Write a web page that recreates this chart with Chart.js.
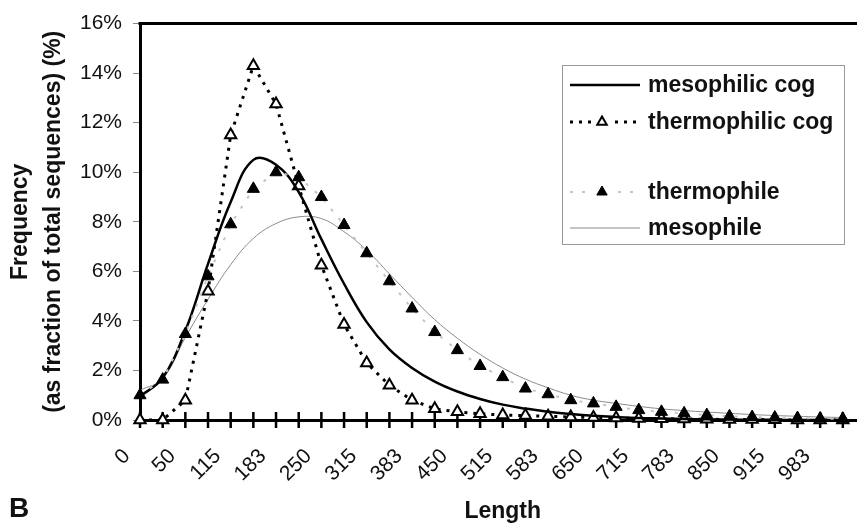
<!DOCTYPE html>
<html>
<head>
<meta charset="utf-8">
<title>Length distribution</title>
<script src="https://cdn.jsdelivr.net/npm/chart.js@4.4.1/dist/chart.umd.min.js"></script>
<style>
  html, body { margin: 0; padding: 0; background: #fff; overflow: hidden; }
  #wrap { position: relative; width: 857px; height: 525px; overflow: hidden; }
  #panel { position: absolute; left: 9px; top: 494px; font: bold 28px 'Liberation Sans', Arial, sans-serif; color: #111; line-height: 1; }
</style>
</head>
<body>
<div id="wrap">
  <canvas id="chart" width="874" height="525"></canvas>
  <div id="panel">B</div>
</div>
<script>
// length bins (only every other one is labelled on the axis)
const lengthBins = ['0', '25', '50', '83', '115', '150', '183', '217', '250', '283', '315', '350',
  '383', '417', '450', '483', '515', '550', '583', '617', '650', '683', '715', '750',
  '783', '817', '850', '883', '915', '950', '983', '1017', '1050'];

// frequency in % of total sequences
const mesophilicCog = [0.95, 1.7, 3.6, 6.3, 8.8, 10.5, 10.3, 9.2, 7.3, 5.5, 3.95, 2.85,
  2.1, 1.55, 1.15, 0.85, 0.62, 0.46, 0.33, 0.24, 0.17, 0.12, 0.08, 0.06,
  0.04, 0.03, 0.02, 0.01, 0.01, 0, 0, 0, null];
const thermophilicCog = [0, 0, 0.8, 5.2, 11.5, 14.3, 12.75, 9.45, 6.25, 3.85, 2.3, 1.4,
  0.8, 0.45, 0.33, 0.25, 0.2, 0.18, 0.15, 0.12, 0.1, 0.08, 0.06, 0.05,
  0.04, 0.03, 0.02, 0.02, 0.01, 0, 0, 0, null];
const thermophile = [1.0, 1.63, 3.47, 5.8, 7.9, 9.33, 10.0, 9.8, 9.0, 7.87, 6.73, 5.6,
  4.5, 3.55, 2.82, 2.18, 1.73, 1.27, 1.04, 0.8, 0.67, 0.53, 0.4, 0.33,
  0.27, 0.2, 0.15, 0.12, 0.1, 0.08, 0.06, 0.05, null];
const mesophile = [1.2, 1.67, 3.33, 4.87, 6.27, 7.33, 7.93, 8.2, 8.13, 7.6, 6.85, 5.9,
  4.95, 4.05, 3.3, 2.65, 2.1, 1.65, 1.3, 1.0, 0.8, 0.67, 0.55, 0.45,
  0.38, 0.32, 0.27, 0.22, 0.18, 0.15, 0.12, 0.1, null];

const FONT = "'Liberation Sans', Arial, sans-serif";
const INK = '#111';

// thick top frame + tick marks crossing the x axis
const framePlugin = {
  id: 'frame',
  beforeDatasetsDraw(chart) {
    const { ctx, chartArea } = chart;
    const xs = chart.scales.x;
    const y0 = chart.scales.y.getPixelForValue(0);
    ctx.save();
    ctx.strokeStyle = '#000';
    ctx.lineWidth = 3;
    ctx.beginPath();
    ctx.moveTo(chartArea.left - 1.5, chartArea.top);
    ctx.lineTo(chart.width, chartArea.top);
    ctx.stroke();
    ctx.lineWidth = 2.5;
    ctx.beginPath();
    for (let i = 0; i < lengthBins.length; i++) {
      const x = xs.getPixelForTick(i);
      ctx.moveTo(x, y0 - 8);
      ctx.lineTo(x, y0 + 8);
    }
    ctx.stroke();
    ctx.restore();
  }
};

// boxed legend inside the plot, with a blank row between the pairs
const legendPlugin = {
  id: 'boxLegend',
  afterDraw(chart) {
    const { ctx } = chart;
    const box = { x: 562, y: 65, w: 282, h: 179 };
    const rows = [85, 122, 192, 228];
    ctx.save();
    ctx.fillStyle = '#fff';
    ctx.fillRect(box.x, box.y, box.w, box.h);
    ctx.strokeStyle = '#999';
    ctx.lineWidth = 1;
    ctx.strokeRect(box.x + 0.5, box.y + 0.5, box.w, box.h);

    chart.data.datasets.forEach((ds, i) => {
      const y = rows[i];
      ctx.save();
      ctx.strokeStyle = ds.borderColor;
      ctx.lineWidth = ds.borderWidth;
      ctx.setLineDash(ds.borderDash || []);
      ctx.beginPath();
      ctx.moveTo(570, y);
      ctx.lineTo(640, y);
      ctx.stroke();
      ctx.restore();
      if (ds.pointRadius > 0) {
        const r = ds.pointRadius - 1;
        ctx.fillStyle = '#fff';
        ctx.fillRect(594, y - 8, 16, 16);
        ctx.fillStyle = ds.pointBackgroundColor;
        ctx.strokeStyle = ds.pointBorderColor;
        ctx.lineWidth = ds.pointBorderWidth;
        ctx.setLineDash([]);
        ctx.beginPath();
        ctx.moveTo(602, y - r);
        ctx.lineTo(602 + r * 0.866, y + r * 0.5);
        ctx.lineTo(602 - r * 0.866, y + r * 0.5);
        ctx.closePath();
        ctx.fill();
        ctx.stroke();
      }
      ctx.fillStyle = INK;
      ctx.font = 'bold 23px ' + FONT;
      ctx.textBaseline = 'middle';
      ctx.textAlign = 'left';
      ctx.fillText(ds.label, 648, y + 1);
    });
    ctx.restore();
  }
};

new Chart(document.getElementById('chart'), {
  type: 'line',
  data: {
    labels: lengthBins,
    datasets: [
      {
        label: 'mesophilic cog',
        data: mesophilicCog,
        borderColor: '#000',
        borderWidth: 2.5,
        tension: 0.4,
        pointRadius: 0,
        fill: false,
        clip: false,
        order: 1
      },
      {
        label: 'thermophilic cog',
        data: thermophilicCog,
        borderColor: '#000',
        borderWidth: 3,
        borderDash: [3, 6],
        tension: 0,
        pointStyle: 'triangle',
        pointRadius: 6.5,
        pointBackgroundColor: '#fff',
        pointBorderColor: '#000',
        pointBorderWidth: 2,
        fill: false,
        clip: false,
        order: 2
      },
      {
        label: 'thermophile',
        data: thermophile,
        borderColor: '#c4c4c4',
        borderWidth: 2,
        borderDash: [3, 9],
        tension: 0,
        pointStyle: 'triangle',
        pointRadius: 7,
        pointBackgroundColor: '#000',
        pointBorderColor: '#000',
        pointBorderWidth: 1,
        fill: false,
        clip: false,
        order: 0
      },
      {
        label: 'mesophile',
        data: mesophile,
        borderColor: '#8a8a8a',
        borderWidth: 1,
        tension: 0.4,
        pointRadius: 0,
        fill: false,
        clip: false,
        order: 3
      }
    ]
  },
  options: {
    responsive: false,
    animation: false,
    events: [],
    layout: { padding: { top: 20, right: 0, left: 0, bottom: 0 } },
    plugins: {
      legend: { display: false },
      tooltip: { enabled: false }
    },
    scales: {
      x: {
        grid: { display: true, drawOnChartArea: false, drawTicks: false },
        border: { color: '#000', width: 3 },
        ticks: {
          autoSkip: false,
          maxRotation: 45,
          minRotation: 45,
          padding: 24,
          labelOffset: -13,
          color: INK,
          font: { family: FONT, size: 21 },
          callback(value, index) {
            return index % 2 === 0 && index < 31 ? this.getLabelForValue(value) : '';
          }
        },
        title: {
          display: true,
          text: 'Length',
          color: INK,
          font: { family: FONT, size: 23, weight: 'bold' },
          padding: { top: 0, bottom: 0 }
        },
        afterFit(scale) {
          scale.height = 105;
          scale.paddingRight = 0;
        }
      },
      y: {
        min: 0,
        max: 16,
        grid: { drawOnChartArea: false, drawTicks: true, tickLength: 7, color: '#888', lineWidth: 1 },
        border: { color: '#000', width: 3 },
        ticks: {
          stepSize: 2,
          padding: 11,
          color: INK,
          font: { family: FONT, size: 21 },
          callback: v => v + '%'
        },
        title: {
          display: true,
          text: ['Frequency', '(as fraction of total sequences) (%)'],
          color: INK,
          font: { family: FONT, size: 23, weight: 'bold', lineHeight: 1.43 },
          padding: { top: 4, bottom: 0 }
        },
        afterFit(scale) { scale.width = 140; }
      }
    }
  },
  plugins: [framePlugin, legendPlugin]
});
</script>
</body>
</html>
